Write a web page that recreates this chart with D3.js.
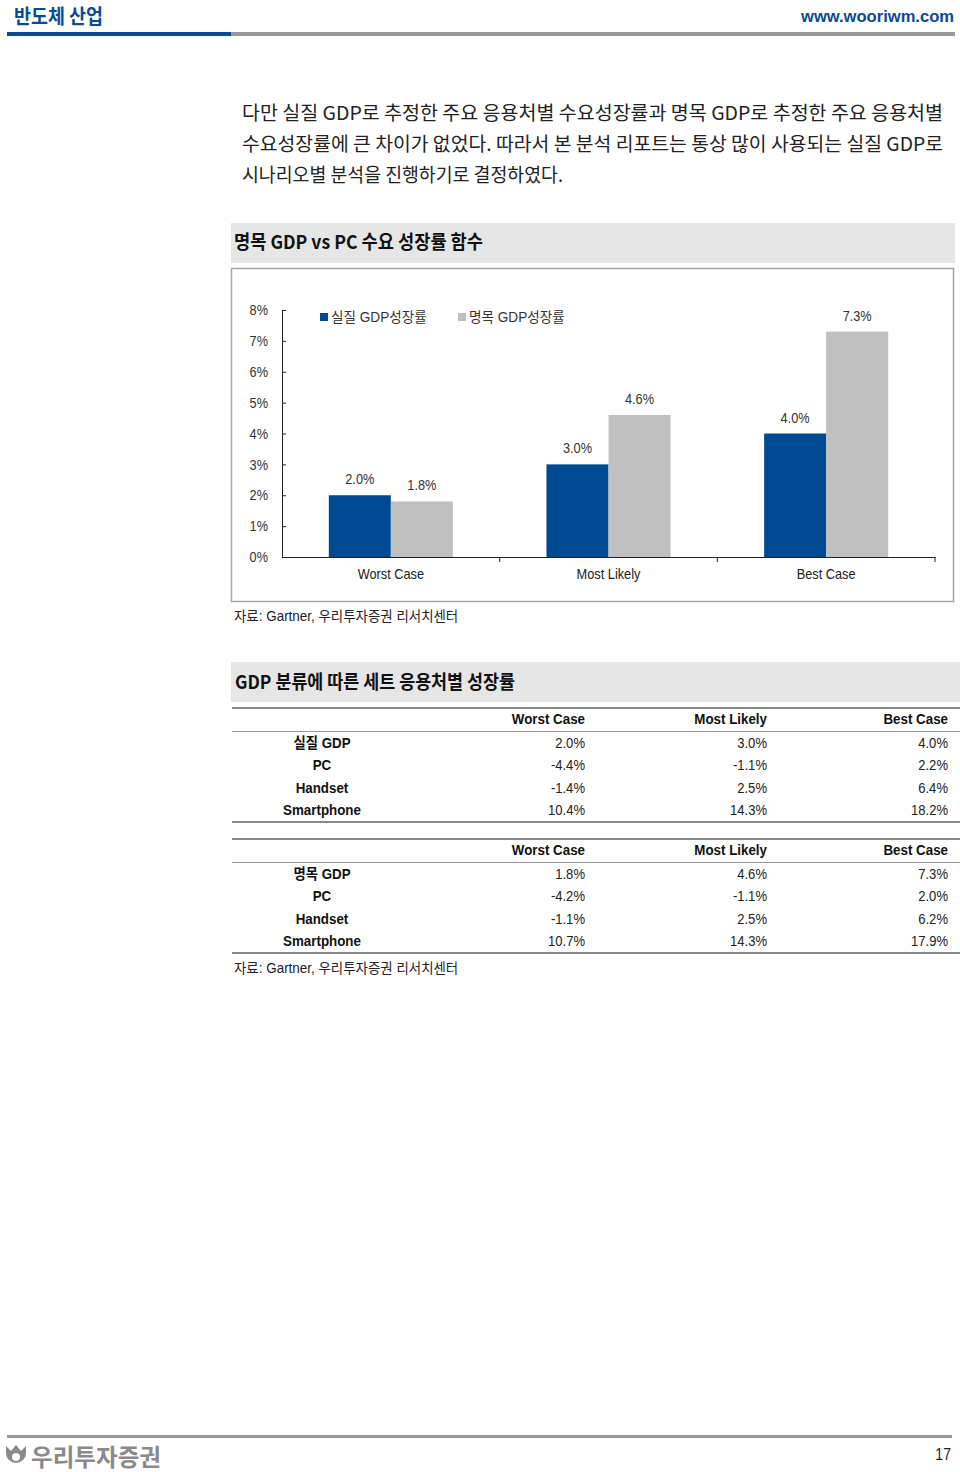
<!DOCTYPE html>
<html><head><meta charset="utf-8">
<script src="https://cdn.jsdelivr.net/npm/d3@7"></script>
<style>
html,body{margin:0;padding:0;background:#fff;}
svg{display:block;}
.narrow{font-family:"Liberation Sans Narrow","Arial Narrow","Liberation Sans","Noto Sans CJK KR",sans-serif;}
.kr{font-family:"Noto Sans CJK KR","Noto Sans",sans-serif;}
</style></head>
<body>
<script>
// ---------- data ----------
const categories = ["Worst Case", "Most Likely", "Best Case"];
const seriesNames = ["실질 GDP성장률", "명목 GDP성장률"];
const realGDP = [2.0, 3.0, 4.0];
const nominalGDP = [1.8, 4.6, 7.3];
const yTicks = [0, 1, 2, 3, 4, 5, 6, 7, 8];

const tableHeader = ["Worst Case", "Most Likely", "Best Case"];
const table1Labels = ["실질 GDP", "PC", "Handset", "Smartphone"];
const table1Values = [["2.0%","3.0%","4.0%"],["-4.4%","-1.1%","2.2%"],["-1.4%","2.5%","6.4%"],["10.4%","14.3%","18.2%"]];
const table2Labels = ["명목 GDP", "PC", "Handset", "Smartphone"];
const table2Values = [["1.8%","4.6%","7.3%"],["-4.2%","-1.1%","2.0%"],["-1.1%","2.5%","6.2%"],["10.7%","14.3%","17.9%"]];

const bodyLines = [
  "다만 실질 GDP로 추정한 주요 응용처별 수요성장률과 명목 GDP로 추정한 주요 응용처별",
  "수요성장률에 큰 차이가 없었다. 따라서 본 분석 리포트는 통상 많이 사용되는 실질 GDP로",
  "시나리오별 분석을 진행하기로 결정하였다."
];

const BLUE = "#004a93", GRAY = "#c0c0c0";

const svg = d3.select("body").append("svg").attr("width", 960).attr("height", 1472);

// ---------- header ----------
svg.append("text").attr("class","kr").attr("x",14).attr("y",24).attr("font-size",20).attr("font-weight",700)
  .attr("fill","#0a4a93").attr("textLength",89).attr("lengthAdjust","spacingAndGlyphs").text("반도체 산업");
svg.append("text").attr("class","narrow").attr("x",954).attr("y",22).attr("text-anchor","end").attr("font-size",16)
  .attr("font-weight",700).attr("fill","#0a4a93").attr("textLength",153).attr("lengthAdjust","spacingAndGlyphs").text("www.wooriwm.com");
svg.append("rect").attr("x",7).attr("y",32).attr("width",224).attr("height",4).attr("fill","#0a4a93");
svg.append("rect").attr("x",231).attr("y",32).attr("width",724).attr("height",4).attr("fill","#999");

// ---------- body text ----------
const bodyWidths = [701, 701, 321];
bodyLines.forEach((t,i)=>{
  svg.append("text").attr("class","kr").attr("x",242).attr("y",120+i*31).attr("font-size",19)
    .attr("fill","#222").attr("textLength",bodyWidths[i]).attr("lengthAdjust","spacingAndGlyphs").text(t);
});

// ---------- chart title ----------
svg.append("rect").attr("x",231).attr("y",223).attr("width",724).attr("height",40).attr("fill","#e6e6e6");
svg.append("text").attr("class","kr").attr("x",234).attr("y",249).attr("font-size",19).attr("font-weight",700)
  .attr("fill","#111").attr("textLength",249).attr("lengthAdjust","spacingAndGlyphs").text("명목 GDP vs PC 수요 성장률 함수");

// frame
svg.append("rect").attr("x",231.5).attr("y",268.5).attr("width",722).attr("height",333)
  .attr("fill","#fff").attr("stroke","#a8a8a8").attr("stroke-width",1.5);

// ---------- chart ----------
const x0 = d3.scaleBand().domain(categories).range([282, 935]).paddingInner(0.43).paddingOuter(0.215);
const x1 = d3.scaleBand().domain(seriesNames).range([0, x0.bandwidth()]);
const y = d3.scaleLinear().domain([0, 8]).range([557, 310]);

const data = categories.map((c,i)=>({cat:c, vals:[realGDP[i], nominalGDP[i]]}));

const g = svg.append("g");
const groups = g.selectAll("g.grp").data(data).join("g").attr("class","grp")
  .attr("transform", d=>`translate(${x0(d.cat)},0)`);
groups.selectAll("rect").data(d=>d.vals.map((v,j)=>({s:seriesNames[j], v, j})))
  .join("rect")
  .attr("x", d=>x1(d.s)).attr("width", x1.bandwidth())
  .attr("y", d=>y(d.v)).attr("height", d=>y(0)-y(d.v))
  .attr("fill", d=>d.j===0?BLUE:GRAY);
groups.selectAll("text.val").data(d=>d.vals.map((v,j)=>({s:seriesNames[j], v, j})))
  .join("text").attr("class","val narrow c88")
  .attr("x", d=>x1(d.s)+x1.bandwidth()/2).attr("y", d=>y(d.v)-11)
  .attr("text-anchor","middle").attr("font-size",14.5).attr("fill","#333")
  .text(d=>d.v.toFixed(1)+"%");

// y axis
const yAxis = d3.axisLeft(y).tickValues(yTicks).tickSizeInner(-4).tickSizeOuter(0).tickPadding(14).tickFormat(d=>d+"%");
const ya = svg.append("g").attr("transform","translate(282,0)").call(yAxis);
ya.select(".domain").attr("stroke","#222");
ya.selectAll(".tick line").attr("stroke","#222");
ya.selectAll("text").attr("class","narrow c88").attr("font-size",14.5).attr("fill","#333").attr("font-family",null);

// x axis
const xAxis = d3.axisBottom(x0).tickSize(0).tickPadding(12);
const xa = svg.append("g").attr("transform","translate(0,557)").call(xAxis);
xa.select(".domain").attr("stroke","#222");
xa.selectAll("text").attr("class","narrow c88").attr("font-size",14.5).attr("fill","#222").attr("font-family",null);
const step = x0.step();
xa.selectAll("line.bnd").data(categories).join("line").attr("class","bnd")
  .attr("x1",d=>x0(d)+x0.bandwidth()+step*x0.paddingInner()/2)
  .attr("x2",d=>x0(d)+x0.bandwidth()+step*x0.paddingInner()/2)
  .attr("y1",0).attr("y2",5).attr("stroke","#222");

// legend
const lg = svg.append("g");
const legendX = [320, 458];
seriesNames.forEach((s,i)=>{
  lg.append("rect").attr("x",legendX[i]).attr("y",313).attr("width",8).attr("height",8).attr("fill",i===0?BLUE:GRAY);
  lg.append("text").attr("class","narrow c97").attr("x",legendX[i]+11).attr("y",322).attr("font-size",14)
    .attr("fill","#333").text(s);
});

// source
svg.append("text").attr("class","narrow c96").attr("x",234).attr("y",621).attr("font-size",14).attr("fill","#222")
  .text("자료: Gartner, 우리투자증권 리서치센터");

// ---------- table section ----------
svg.append("rect").attr("x",231).attr("y",662).attr("width",729).attr("height",40).attr("fill","#e6e6e6");
svg.append("text").attr("class","kr").attr("x",235).attr("y",689).attr("font-size",19).attr("font-weight",700)
  .attr("fill","#111").attr("textLength",280).attr("lengthAdjust","spacingAndGlyphs").text("GDP 분류에 따른 세트 응용처별 성장률");

const colX = [585, 767, 948];
function drawTable(top, labels, values){
  const t = svg.append("g");
  t.append("rect").attr("x",232).attr("y",top).attr("width",728).attr("height",2).attr("fill","#888");
  tableHeader.forEach((h,i)=>{
    t.append("text").attr("class","narrow c92").attr("x",colX[i]).attr("y",top+17).attr("text-anchor","end")
      .attr("font-size",14.5).attr("font-weight",700).attr("fill","#111").text(h);
  });
  t.append("rect").attr("x",232).attr("y",top+24).attr("width",728).attr("height",1).attr("fill","#999");
  labels.forEach((l,r)=>{
    const yy = top+41+r*22.3;
    t.append("text").attr("class","narrow c92").attr("x",322).attr("y",yy).attr("text-anchor","middle")
      .attr("font-size",14.5).attr("font-weight",700).attr("fill","#111").text(l);
    values[r].forEach((v,c)=>{
      t.append("text").attr("class","narrow c90").attr("x",colX[c]).attr("y",yy).attr("text-anchor","end")
        .attr("font-size",14.5).attr("fill","#222").text(v);
    });
  });
  t.append("rect").attr("x",232).attr("y",top+114).attr("width",728).attr("height",2).attr("fill","#888");
}
drawTable(707, table1Labels, table1Values);
drawTable(838, table2Labels, table2Values);

svg.append("text").attr("class","narrow c96").attr("x",234).attr("y",973).attr("font-size",14).attr("fill","#222")
  .text("자료: Gartner, 우리투자증권 리서치센터");

// ---------- footer ----------
svg.append("rect").attr("x",7).attr("y",1435).attr("width",945).attr("height",3).attr("fill","#999");
const logo = svg.append("g").attr("fill","#8a8a8a");
logo.append("path").attr("d","M6,1446 L11,1451 L16,1445 L21,1451 L26,1446 L26,1453 A10,10 0 1 1 6,1453 Z");
logo.append("circle").attr("cx",16).attr("cy",1457).attr("r",4).attr("fill","#fff");
logo.append("text").attr("class","kr").attr("x",31).attr("y",1466).attr("font-size",24).attr("font-weight",700)
  .attr("textLength",130).attr("lengthAdjust","spacingAndGlyphs").text("우리투자증권");
svg.append("text").attr("class","narrow c88").attr("x",951).attr("y",1460).attr("text-anchor","end").attr("font-size",16)
  .attr("fill","#222").text("17");

// condense narrow text (no condensed font installed)
const factors = {c88:0.88, c90:0.90, c92:0.92, c96:0.96, c97:0.97};
Object.entries(factors).forEach(([cls,k])=>{
  svg.selectAll("text."+cls).each(function(){
    const w = this.getComputedTextLength();
    d3.select(this).attr("textLength", w*k).attr("lengthAdjust","spacingAndGlyphs");
  });
});
</script>
</body></html>
